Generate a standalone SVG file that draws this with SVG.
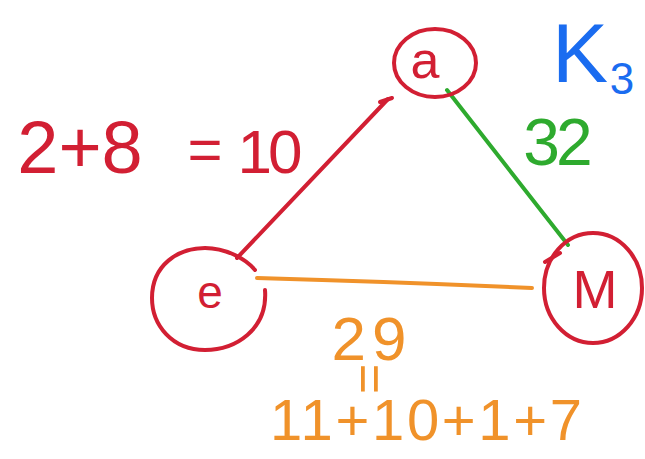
<svg xmlns="http://www.w3.org/2000/svg" width="645" height="459" viewBox="0 0 645 459">
<style>
.node{fill:none;stroke:#d21f33;stroke-width:4;stroke-linecap:round}
.lbl{font-family:"Liberation Sans",Arial,sans-serif;text-anchor:middle}
.red{fill:#d21f33}
.grn{fill:#2eaa2e}
.org{fill:#f0922a}
.blu{fill:#1a6cf0}
.edge{fill:none;stroke-width:4;stroke-linecap:round}
</style>
<rect width="645" height="459" fill="#ffffff"/>
<g id="connectors">
<path class="edge" stroke="#d21f33" d="M388 99 L237 258"/>
<path class="edge" stroke="#d21f33" d="M380 102 L392 98"/>
<path class="edge" stroke="#2eaa2e" d="M447 90 L568 245"/>
<path class="edge" stroke="#f0922a" d="M257 278 Q400 282 532 288"/>
</g>
<g id="node-a">
<ellipse class="node" cx="435" cy="63" rx="41" ry="34"/>
<text class="lbl red" x="425" y="78" font-size="52">a</text>
</g>
<g id="node-e">
<path class="node" d="M265 290 C268 330 235 350 205 350 C172 350 152 325 152 298 C152 265 178 248 205 248 C225 248 245 258 255 270"/>
<text class="lbl red" x="210" y="308" font-size="46">e</text>
</g>
<g id="node-M">
<ellipse class="node" cx="593" cy="288" rx="49" ry="55"/>
<path class="edge" stroke="#d21f33" d="M545 262 L560 253"/>
<text class="lbl red" x="595" y="308" font-size="54">M</text>
</g>
<g id="labels">
<text class="lbl red" x="80" y="173" font-size="74">2+8</text>
<text class="lbl red" x="205" y="170" font-size="60">=</text>
<text class="lbl red" x="268" y="173" font-size="62" letter-spacing="-4">10</text>
<text class="lbl grn" x="556" y="165" font-size="66" letter-spacing="-4">32</text>
<text class="lbl blu" x="580" y="82" font-size="84">K</text>
<text class="lbl blu" x="622" y="94" font-size="44">3</text>
<text class="lbl org" x="372" y="360" font-size="62" letter-spacing="6">29</text>
<text class="lbl org" transform="translate(366 379) rotate(90)" x="0" y="14" font-size="52">=</text>
<text class="org" font-family="Liberation Sans, Arial, sans-serif" x="270" y="440" font-size="58" textLength="312" lengthAdjust="spacing">11+10+1+7</text>
</g>
</svg>
